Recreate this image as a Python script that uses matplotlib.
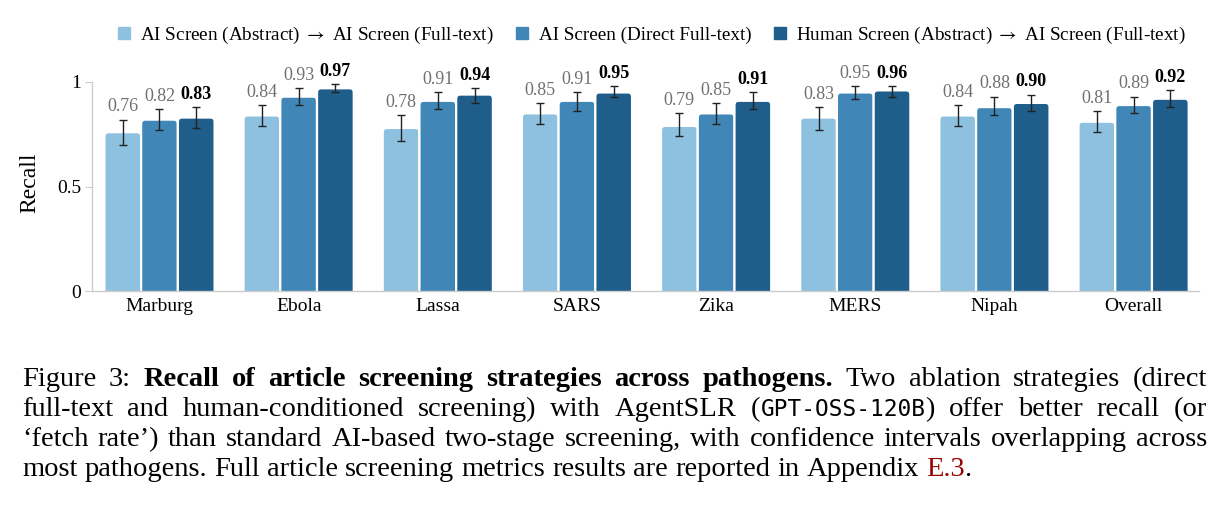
import matplotlib
matplotlib.use("Agg")
import numpy as np
import matplotlib.pyplot as plt
from matplotlib.lines import Line2D
from matplotlib.patches import FancyBboxPatch

plt.rcParams["font.family"] = ["Liberation Serif", "DejaVu Serif"]
plt.rcParams["mathtext.fontset"] = "stix"

# -----------------------------
# Data
# -----------------------------
pathogens = ["Marburg", "Ebola", "Lassa", "SARS", "Zika", "MERS", "Nipah", "Overall"]
strategies = [
    r"AI Screen (Abstract) $\rightarrow$ AI Screen (Full-text)",
    "AI Screen (Direct Full-text)",
    r"Human Screen (Abstract) $\rightarrow$ AI Screen (Full-text)",
]

recall_two_stage = [0.76, 0.84, 0.78, 0.85, 0.79, 0.83, 0.84, 0.81]
recall_direct = [0.82, 0.93, 0.91, 0.91, 0.85, 0.95, 0.88, 0.89]
recall_human = [0.83, 0.97, 0.94, 0.95, 0.91, 0.96, 0.90, 0.92]

ci_low_two_stage = [0.70, 0.79, 0.72, 0.80, 0.74, 0.77, 0.79, 0.76]
ci_high_two_stage = [0.82, 0.89, 0.84, 0.90, 0.85, 0.88, 0.89, 0.86]
ci_low_direct = [0.77, 0.89, 0.87, 0.86, 0.80, 0.92, 0.84, 0.85]
ci_high_direct = [0.87, 0.97, 0.95, 0.95, 0.90, 0.98, 0.93, 0.93]
ci_low_human = [0.78, 0.95, 0.90, 0.93, 0.87, 0.93, 0.86, 0.88]
ci_high_human = [0.88, 0.99, 0.97, 0.98, 0.95, 0.98, 0.94, 0.96]

colors = ["#8ec1e0", "#4087b7", "#1f5d8a"]

# -----------------------------
# Figure
# -----------------------------
W, H = 1224, 505
fig = plt.figure(figsize=(W / 100, H / 100), dpi=100)
ax = fig.add_axes([92 / W, 1 - 291 / H, 1107 / W, 1.1 * 209 / H])

x = np.arange(len(pathogens))
width = 0.264

series = [
    (recall_two_stage, ci_low_two_stage, ci_high_two_stage),
    (recall_direct, ci_low_direct, ci_high_direct),
    (recall_human, ci_low_human, ci_high_human),
]

# rounded tops: radius in x data units, aspect converts to y units
radius = 0.03
aspect = 139 / 209

for i, (vals, lo, hi) in enumerate(series):
    vals = np.array(vals)
    lo = np.array(lo)
    hi = np.array(hi)
    xpos = x + (i - 1) * width
    bars = ax.bar(xpos, vals, width, color=colors[i])
    for rect in bars:
        rect.set_visible(False)
        x0, w, h = rect.get_x(), rect.get_width(), rect.get_height()
        patch = FancyBboxPatch(
            (x0, -0.05), w, h + 0.05,
            boxstyle=f"round,pad=0,rounding_size={radius}",
            mutation_aspect=aspect,
            facecolor=colors[i], edgecolor="white", linewidth=1.6,
            zorder=2,
        )
        ax.add_patch(patch)
    ax.errorbar(xpos, vals, yerr=[vals - lo, hi - vals], fmt="none",
                ecolor="#222222", elinewidth=1.0, capsize=2.8,
                capthick=1.0, zorder=3)
    for xi, v, h in zip(xpos, vals, hi):
        if i == 2:
            kw = dict(color="black", fontweight="bold")
        else:
            kw = dict(color="#707070")
        ax.annotate(f"{v:.2f}", (xi, h), xytext=(0, 3),
                    textcoords="offset points", ha="center", va="bottom",
                    fontsize=13, **kw)

ax.set_xlim(-0.485, 7.47)
ax.set_ylim(0, 1.1)
ax.set_yticks([0, 0.5, 1])
ax.set_yticklabels(["0", "0.5", "1"])
ax.set_xticks(x)
ax.set_xticklabels(pathogens)
ax.tick_params(axis="x", length=0, pad=5, labelsize=14)
ax.tick_params(axis="y", length=5, color="#cccccc", labelsize=14, pad=3)

for side in ["top", "right"]:
    ax.spines[side].set_visible(False)
for side in ["left", "bottom"]:
    ax.spines[side].set_color("#cccccc")
    ax.spines[side].set_linewidth(1.0)
    ax.spines[side].set_zorder(4)
ax.spines["left"].set_bounds(0, 1)

ax.set_ylabel("Recall", fontsize=17)
ax.yaxis.set_label_coords(-0.047, 0.47)

handles = [
    Line2D([], [], marker="s", linestyle="none", markersize=9,
           color=c, markeredgecolor=c)
    for c in colors
]
fig.legend(handles, strategies, loc="center",
           bbox_to_anchor=(650 / W, 1 - 35 / H), ncol=3, frameon=False,
           fontsize=13.8, handletextpad=0.35, columnspacing=1.0,
           handlelength=1.0)

# -----------------------------
# Caption (justified lines)
# -----------------------------
cap_size = 20.5
mono = ["DejaVu Sans Mono"]
styles = {
    "n": dict(),
    "b": dict(fontweight="bold"),
    "m": dict(family=mono, fontsize=cap_size * 0.8),
    "r": dict(color="#990000"),
}


def words_of(segments):
    # split segments [(text, style)] into words of segments
    words = [[]]
    for txt, st in segments:
        parts = txt.split(" ")
        for k, p in enumerate(parts):
            if k > 0:
                words.append([])
            if p:
                words[-1].append((p, st))
    return [w for w in words if w]


caption_lines = [
    [("Figure 3: ", "n"),
     ("Recall of article screening strategies across pathogens.", "b"),
     (" Two ablation strategies (direct", "n")],
    [("full-text and human-conditioned screening) with AgentSLR (", "n"),
     ("GPT-OSS-120B", "m"), (") offer better recall (or", "n")],
    [("\u2018fetch rate\u2019) than standard AI-based two-stage screening, "
      "with confidence intervals overlapping across", "n")],
    [("most pathogens. Full article screening metrics results are "
      "reported in Appendix ", "n"), ("E.3", "r"), (".", "n")],
]

renderer = fig.canvas.get_renderer()


def make_text(px, py, txt, st):
    kw = dict(fontsize=cap_size, color="black")
    kw.update(styles[st])
    return fig.text(px / W, 1 - py / H, txt, ha="left", va="baseline", **kw)


def width_of(t):
    return t.get_window_extent(renderer).width


probe_a = make_text(0, 0, "x x", "n")
probe_b = make_text(0, 0, "xx", "n")
space_w = width_of(probe_a) - width_of(probe_b)
probe_a.remove()
probe_b.remove()

x_left, x_right = 22, 1207
base_y = 386
line_gap = 30

for li, segs in enumerate(caption_lines):
    y = base_y + li * line_gap
    words = words_of(segs)
    word_items = []
    for word in words:
        items = []
        for txt, st in word:
            t = make_text(0, y, txt, st)
            items.append((t, width_of(t)))
        word_items.append(items)
    total = sum(w for items in word_items for _, w in items)
    last = li == len(caption_lines) - 1
    if last or len(word_items) < 2:
        gap = space_w
    else:
        gap = (x_right - x_left - total) / (len(word_items) - 1)
    cx = x_left
    for items in word_items:
        for t, w in items:
            t.set_x(cx / W)
            cx += w
        cx += gap

fig.savefig("out.png", dpi=100)
